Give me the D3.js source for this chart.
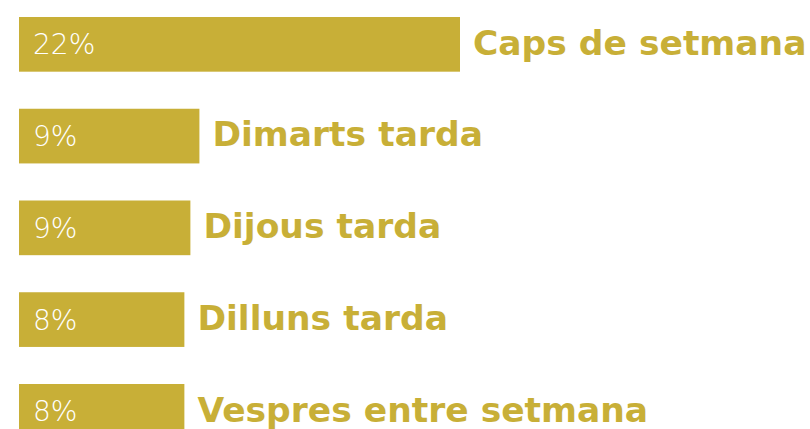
<!DOCTYPE html>
<html>
<head>
<meta charset="utf-8">
<script src="https://cdn.jsdelivr.net/npm/d3@7"></script>
<style>
  html, body { margin: 0; padding: 0; background: #fff; overflow: hidden; }
  .pct { fill: #fff; font-family: "DejaVu Sans", sans-serif; font-weight: 300; }
  .label { fill: #c8af37; font-family: "DejaVu Sans", sans-serif; font-weight: bold; }
</style>
</head>
<body>
<div id="chart"></div>
<script>
// data
var categories = ["Caps de setmana", "Dimarts tarda", "Dijous tarda", "Dilluns tarda", "Vespres entre setmana"];
var values = [22.0, 9.0, 8.55, 8.25, 8.25];
var pctLabels = ["22%", "9%", "9%", "8%", "8%"];

var params = {
    width: 810,
    height: 429,
    margin_left: 19,
    margin_top: 17,
    step: 91.75,
    pad: 0.404,
    color: "#c8af37"
};

function plot_bars() {

    var data = categories.map(function(c, i) {
        return { cat: c, value: values[i], pct: pctLabels[i] };
    });

    var x = d3.scaleLinear().domain([0, 22]).range([0, 441]);
    var y = d3.scaleBand().domain(categories)
                .range([0, params.step * (categories.length - params.pad)])
                .paddingInner(params.pad).paddingOuter(0);

    var svg = d3.select("#chart")
                .append("svg")
                .attr("width", params.width)
                .attr("height", params.height)
                .append("g")
                    .attr("transform", "translate(" + params.margin_left + "," + params.margin_top + ")");

    var row = svg.selectAll(".row")
        .data(data).enter()
        .append("g")
            .attr("class", "row")
            .attr("transform", function(d) { return "translate(0," + y(d.cat) + ")"; });

    row.append("rect")
        .attr("x", 0)
        .attr("width", function(d) { return x(d.value); })
        .attr("height", y.bandwidth())
        .style("fill", params.color);

    row.append("text")
        .attr("class", "pct")
        .attr("x", 14)
        .attr("y", y.bandwidth() / 2)
        .attr("dy", "0.36em")
        .style("font-size", "28px")
        .text(function(d) { return d.pct; });

    row.append("text")
        .attr("class", "label")
        .attr("x", function(d) { return x(d.value) + 13; })
        .attr("y", y.bandwidth() / 2)
        .attr("dy", "0.3em")
        .style("font-size", "34.5px")
        .text(function(d) { return d.cat; });
}

plot_bars();
</script>
</body>
</html>
